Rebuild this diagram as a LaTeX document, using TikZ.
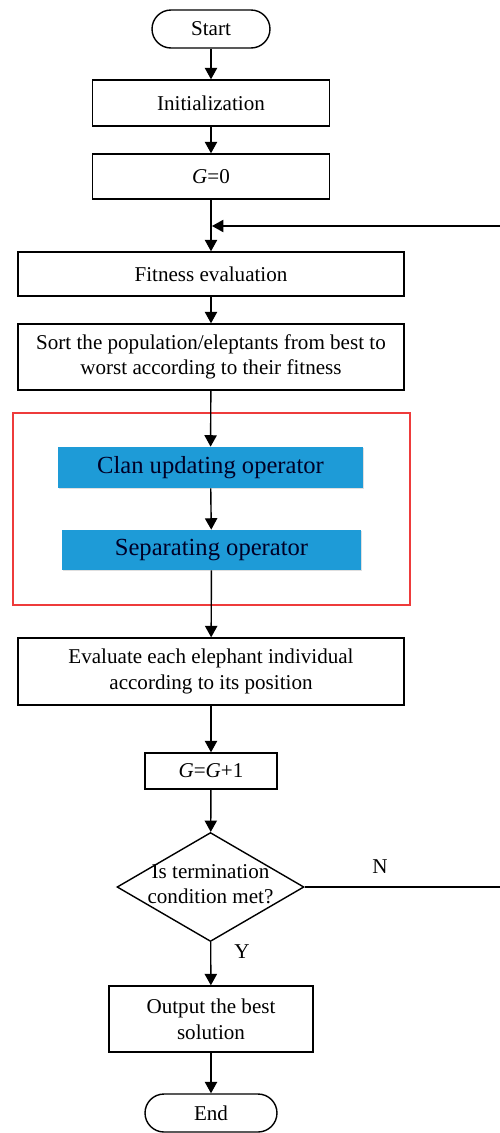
\documentclass[tikz,border=0pt]{standalone}
\usepackage{fontspec}
\setmainfont{Liberation Serif}
\usetikzlibrary{arrows.meta,shapes.geometric,shadows}

\definecolor{opblue}{HTML}{1E9BD7}
\definecolor{framered}{HTML}{EE3B3B}

\tikzset{
  proc/.style={draw,line width=0.8pt,align=center,inner sep=2pt,
    font=\fontsize{12}{14.6}\selectfont},
  term/.style={proc,rounded corners=0.38cm},
  opbox/.style={fill=opblue,align=center,text=black!85!blue,
    font=\fontsize{14}{16}\selectfont,
    drop shadow={shadow xshift=0.7pt,shadow yshift=-0.7pt,opacity=0.25,fill=gray}},
  decision/.style={draw,line width=0.8pt,diamond,inner sep=0pt},
  arr/.style={line width=0.8pt,-{Triangle[length=6.5pt,width=7pt]}},
  yn/.style={font=\fontsize{12}{14}\selectfont}
}

\begin{document}
\begin{tikzpicture}[x=0.02cm,y=-0.02cm]
\useasboundingbox (0,0) rectangle (500,1133);

\node[term,minimum width=2.36cm,minimum height=0.76cm] (start) at (211,29) {Start};
\node[proc,minimum width=4.74cm,minimum height=0.92cm] (init) at (211,103) {Initialization};
\node[proc,minimum width=4.74cm,minimum height=0.9cm] (gzero) at (211,176.5) {\textit{G}=0};
\node[proc,minimum width=7.72cm,minimum height=0.88cm] (fit) at (211,274) {Fitness evaluation};
\node[proc,minimum width=7.72cm,minimum height=1.32cm] (sort) at (211,357)
  {Sort the population/eleptants from best to\\worst according to their fitness};

%operators
\draw[framered,line width=0.8pt] (13,413) rectangle (410,605);
\node[opbox,minimum width=6.1cm,minimum height=0.82cm] (clan) at (210.5,467.5) {Clan updating operator};
\node[opbox,minimum width=5.98cm,minimum height=0.8cm] (sep) at (211.5,550) {Separating operator};

\node[proc,minimum width=7.72cm,minimum height=1.34cm] (eval) at (211,671.5)
  {Evaluate each elephant individual\\according to its position};
\node[proc,minimum width=2.64cm,minimum height=0.72cm] (ginc) at (211,771) {\textit{G}=\textit{G}+1};

%decision
\node[decision,minimum width=3.74cm,minimum height=2.18cm] (dec) at (210.5,887) {};
\node[proc,draw=none] (dectext) at (210.5,884) {Is termination\\condition met?};

\node[proc,minimum width=4.08cm,minimum height=1.32cm] (out) at (211,1019)
  {Output the best\\solution};
\node[term,minimum width=2.64cm,minimum height=0.76cm] (end) at (211,1113) {End};

\node[yn] (lblN) at (380,867) {N};
\node[yn] (lblY) at (242,952) {Y};

%main flow
\draw[arr] (start) -- (init);
\draw[arr] (init) -- (gzero);
\draw[arr] (gzero) -- (fit);
\draw[arr] (fit) -- (sort);
\draw[arr] (sort) -- (clan);
\draw[arr] (clan) -- (sep);
\draw[arr] (sep) -- (eval);
\draw[arr] (eval) -- (ginc);
\draw[arr] (ginc) -- (dec);
\draw[arr] (dec) -- (out);
\draw[arr] (out) -- (end);

%loop back
\coordinate (loopin) at (212,226);
\coordinate (loopR) at (503,887);
\draw[arr] (dec.east) -- (loopR) |- (loopin);

\end{tikzpicture}
\end{document}
